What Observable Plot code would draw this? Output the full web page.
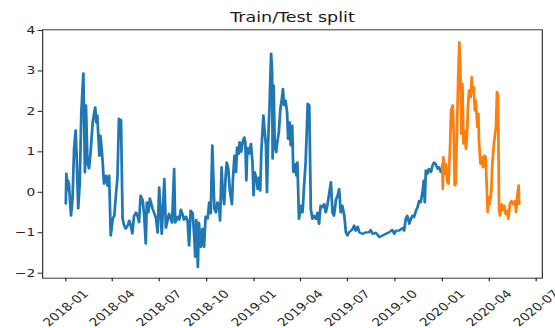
<!DOCTYPE html>
<html>
<head>
<meta charset="utf-8">
<script src="https://cdn.jsdelivr.net/npm/d3@7"></script>
<script src="https://cdn.jsdelivr.net/npm/@observablehq/plot@0.6"></script>
<style>
  html, body { margin: 0; padding: 0; background: #fff; overflow: hidden; }
  /* the figure is drawn at a narrower width and widened horizontally */
  #chart svg { display: block; transform: scaleX(1.25); transform-origin: 0 0; }
</style>
</head>
<body>
<div id="chart"></div>
<script>
// Daily index since 2018-01-01 for each observation
const trainDays = [0,1,3,4,6,10,13,16,19,21,24,27,30,34,35,37,39,42,45,48,52,55,57,59,61,65,67,69,71,74,78,81,84,87,91,94,97,100,103,107,110,113,116,120,123,126,129,132,136,139,142,145,149,152,155,157,160,163,168,171,175,178,181,186,191,194,200,206,210,212,217,220,223,226,229,233,236,239,242,246,249,251,253,256,258,262,265,268,271,275,278,281,284,288,291,294,297,299,302,304,307,310,312,315,318,322,324,327,330,332,335,337,340,343,346,348,350,352,355,359,362,364,366,370,372,375,377,379,383,385,388,390,392,395,398,400,401,403,405,408,410,413,416,418,421,423,426,429,431,434,436,439,441,444,447,449,452,456,459,462,465,469,472,475,478,481,485,488,491,494,498,501,504,507,511,514,517,520,524,527,530,533,536,540,543,546,549,553,556,559,562,566,569,575,582,588,591,595,601,608,614,620,627,633,637,640,646,653,656,659,662,666,669,672,675,679,682,685,688,692,694,696,698,701,704,708,711,714,717,721,724,727];
const trainValues = [-0.28,0.46,0.05,0.3,0.21,-0.58,-0.15,1.08,1.53,0.9,-0.4,0.24,1.97,2.94,2.14,0.49,2.15,0.73,0.59,0.98,1.72,1.97,2.1,1.72,1.9,0.9,1.4,1.15,0.83,0.21,0.41,0.16,0.41,-1.07,-0.65,-0.58,-0.08,0.34,1.82,1.78,-0.65,-0.82,-0.9,-0.82,-0.7,-0.82,-1.02,-0.6,-0.5,-0.58,-0.74,-0.08,-0.2,-0.58,-1.27,-0.25,-0.5,-0.15,-0.4,-0.5,-0.65,-1.0,0.12,-1.03,0.33,-0.88,-0.53,-0.75,0.58,-0.75,-0.6,-0.68,-0.43,-0.53,-0.68,-0.6,-0.7,-1.32,-0.45,-0.52,-1.1,-1.6,-0.68,-1.85,-0.75,-1.35,-0.9,-1.35,-0.6,-0.65,-0.25,-0.52,1.16,-0.4,-0.5,-0.25,-0.3,-0.7,0.62,0.04,-0.3,0.41,0.74,0.58,0.04,-0.3,0.33,0.91,0.5,1.11,0.95,1.24,1.0,1.24,1.36,1.24,0.29,1.1,0.95,1.2,0.7,-0.08,0.5,0.33,0.08,0.37,0.04,0.99,1.9,1.57,1.16,0.0,1.16,2.15,3.43,2.97,0.83,2.64,1.16,0.99,1.24,1.49,2.06,2.23,2.56,2.15,2.27,1.98,1.32,1.73,1.16,1.65,0.5,0.7,0.41,0.74,-0.66,-0.33,-0.5,0.17,0.74,2.19,2.15,-0.41,-0.66,-0.58,-0.66,-0.5,-0.78,-0.33,-0.37,-0.29,-0.5,-0.33,0.0,0.25,-0.5,-0.58,-0.17,-0.08,0.08,-0.5,-0.33,-0.58,-0.99,-1.07,-0.99,-0.95,-0.91,-0.82,-0.95,-0.85,-0.99,-1.03,-0.99,-0.99,-0.93,-1.03,-1.0,-1.11,-1.07,-1.03,-0.99,-0.93,-1.03,-0.95,-0.95,-0.88,-0.95,-0.66,-0.58,-0.78,-0.66,-0.58,-0.62,-0.45,-0.37,-0.21,-0.25,0.04,0.29,-0.25,0.54,0.45,0.58,0.5,0.66,0.74,0.7,0.58,0.62,0.5];

const testDays = [730,731,732,734,737,740,742,745,747,750,752,754,756,758,761,763,765,767,769,771,773,776,778,780,782,785,787,789,791,793,795,798,800,801,804,807,809,812,814,818,820,822,825,827,830,834,836,838,840,842,845,847,850,853,856,858,861,864,867,871,873,875,878,879];
const testValues = [0.7,0.08,0.87,0.45,0.7,0.25,0.21,1.11,2.02,2.15,1.53,0.17,0.21,1.28,2.93,3.71,3.01,1.44,2.68,1.2,1.53,1.07,1.44,2.19,2.52,2.35,2.85,2.48,2.6,2.02,2.27,1.61,1.94,1.28,0.7,0.87,0.62,0.91,0.87,-0.49,-0.12,-0.29,0.04,0.7,1.2,1.61,2.48,2.4,-0.45,-0.58,-0.29,-0.45,-0.33,-0.54,-0.45,-0.66,-0.29,-0.21,-0.29,-0.21,-0.49,-0.12,0.17,-0.29];

const xTickLabels = ["2018-01","2018-04","2018-07","2018-10","2019-01","2019-04","2019-07","2019-10","2020-01","2020-04","2020-07"];
const yTicks = [-2, -1, 0, 1, 2, 3, 4];
const title = "Train/Test split";

const start = new Date(Date.UTC(2018, 0, 1));
const toDate = d => d3.utcDay.offset(start, d);
const train = trainDays.map((d, i) => ({date: toDate(d), value: trainValues[i]}));
const test = testDays.map((d, i) => ({date: toDate(d), value: testValues[i]}));
const xTicks = xTickLabels.map(d3.utcParse("%Y-%m"));

const chart = Plot.plot({
  width: 444,
  height: 328,
  marginLeft: 33.6,
  marginRight: 10.6,
  marginTop: 29.3,
  marginBottom: 50.3,
  style: {fontFamily: "DejaVu Sans", fontSize: "11px", color: "#262626", background: "#fff"},
  x: {type: "utc", domain: [toDate(-45), toDate(924)], label: null},
  y: {domain: [-2.124, 4.017], label: null},
  marks: [
    Plot.axisY({ticks: yTicks, tickFormat: d3.format("d"), tickSize: 3.5, tickPadding: 2.5, label: null, fontSize: 11}),
    Plot.axisX({ticks: xTicks, tickSize: 3.5, tickFormat: () => "", label: null}),
    Plot.text(xTicks, {
      x: d => d, text: (d, i) => xTickLabels[i],
      frameAnchor: "bottom", dy: 30, rotate: -45,
      textAnchor: "middle", lineAnchor: "middle", fontSize: 11, fill: "#262626"
    }),
    Plot.line(train, {x: "date", y: "value", stroke: "#1f77b4", strokeWidth: 2.2}),
    Plot.line(test, {x: "date", y: "value", stroke: "#ff7f0e", strokeWidth: 2.2}),
    Plot.frame({stroke: "#3a3a3a", strokeWidth: 1}),
    Plot.text([title], {frameAnchor: "top", dy: -12, lineAnchor: "middle", fontSize: 14, fill: "#1a1a1a"})
  ]
});
document.getElementById("chart").append(chart);
</script>
</body>
</html>
